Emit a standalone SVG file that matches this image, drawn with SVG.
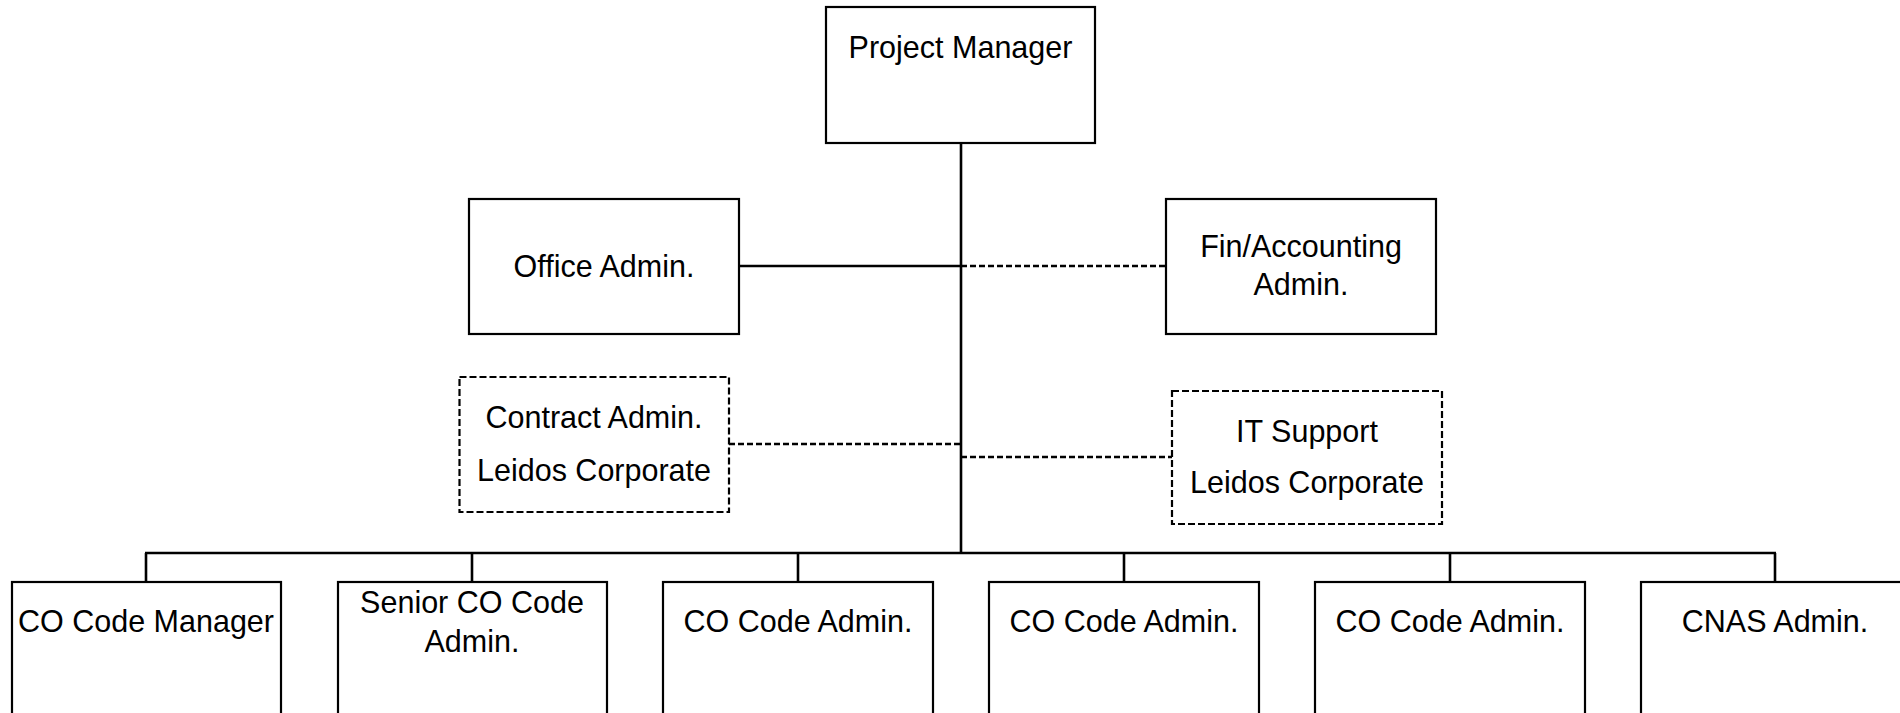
<svg xmlns="http://www.w3.org/2000/svg" width="1900" height="713" viewBox="0 0 1900 713">
<style>
.box{fill:#fff;stroke:#000;stroke-width:2.2}
.dbox{fill:#fff;stroke:#000;stroke-width:2.2;stroke-dasharray:7 3}
.ln{stroke:#000;stroke-width:2.6;fill:none}
.dl{stroke:#000;stroke-width:2.6;fill:none;stroke-dasharray:6 3}
text{font-family:"Liberation Sans",Arial,sans-serif;font-size:30.5px;fill:#000;text-anchor:middle}
</style>
<rect width="1900" height="713" fill="#fff"/>
<g id="connectors">
<line class="ln" x1="961" y1="143" x2="961" y2="553"/>
<line class="ln" x1="739" y1="266" x2="961" y2="266"/>
<line class="dl" x1="961" y1="266" x2="1166" y2="266"/>
<line class="dl" x1="729" y1="444" x2="961" y2="444"/>
<line class="dl" x1="961" y1="457" x2="1172" y2="457"/>
<line class="ln" x1="145" y1="553" x2="1776" y2="553"/>
<line class="ln" x1="146" y1="553" x2="146" y2="582"/>
<line class="ln" x1="472" y1="553" x2="472" y2="582"/>
<line class="ln" x1="798" y1="553" x2="798" y2="582"/>
<line class="ln" x1="1124" y1="553" x2="1124" y2="582"/>
<line class="ln" x1="1450" y1="553" x2="1450" y2="582"/>
<line class="ln" x1="1775" y1="553" x2="1775" y2="582"/>
</g>
<g id="pm">
<rect class="box" x="826" y="7" width="269" height="136"/>
<text x="960.5" y="58">Project Manager</text>
</g>
<g id="office">
<rect class="box" x="469" y="199" width="270" height="135"/>
<text x="604" y="277">Office Admin.</text>
</g>
<g id="fin">
<rect class="box" x="1166" y="199" width="270" height="135"/>
<text x="1301" y="257">Fin/Accounting</text>
<text x="1301" y="295">Admin.</text>
</g>
<g id="contract">
<rect class="dbox" x="459.5" y="377" width="269.5" height="135"/>
<text x="594" y="428">Contract Admin.</text>
<text x="594" y="481">Leidos Corporate</text>
</g>
<g id="it">
<rect class="dbox" x="1172" y="391" width="270" height="133"/>
<text x="1307" y="442">IT Support</text>
<text x="1307" y="493">Leidos Corporate</text>
</g>
<g id="co-manager">
<rect class="box" x="12" y="582" width="269" height="150"/>
<text x="146" y="632">CO Code Manager</text>
</g>
<g id="senior-co">
<rect class="box" x="338" y="582" width="269" height="150"/>
<text x="472" y="613">Senior CO Code</text>
<text x="472" y="652">Admin.</text>
</g>
<g id="co-admin-1">
<rect class="box" x="663" y="582" width="270" height="150"/>
<text x="798" y="632">CO Code Admin.</text>
</g>
<g id="co-admin-2">
<rect class="box" x="989" y="582" width="270" height="150"/>
<text x="1124" y="632">CO Code Admin.</text>
</g>
<g id="co-admin-3">
<rect class="box" x="1315" y="582" width="270" height="150"/>
<text x="1450" y="632">CO Code Admin.</text>
</g>
<g id="cnas">
<rect class="box" x="1641" y="582" width="269" height="150"/>
<text x="1775" y="632">CNAS Admin.</text>
</g>
</svg>
